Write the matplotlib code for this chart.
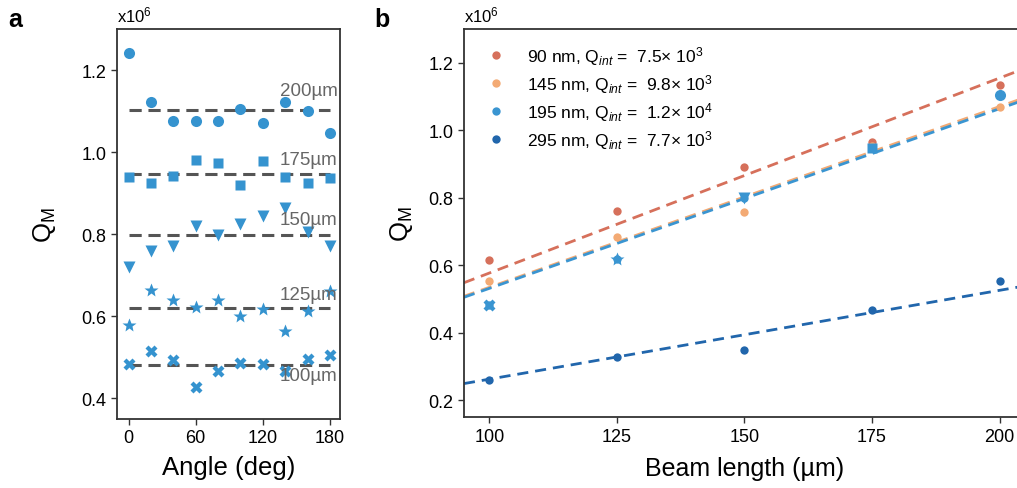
"""Q_M vs angle (a) and Q_M vs beam length (b)"""

import matplotlib

matplotlib.use("Agg")
import matplotlib.pyplot as plt
import numpy as np

plt.rcParams["font.family"] = ["Liberation Sans", "DejaVu Sans"]
plt.rcParams["mathtext.fontset"] = "custom"
plt.rcParams["mathtext.rm"] = "Liberation Sans"
plt.rcParams["mathtext.it"] = "Liberation Sans:italic"

# ── data (x1e6) ──
angles = [0, 20, 40, 60, 80, 100, 120, 140, 160, 180]
q_200 = [1.241, 1.123, 1.075, 1.075, 1.075, 1.104, 1.072, 1.122, 1.100, 1.046]
q_175 = [0.939, 0.926, 0.942, 0.981, 0.973, 0.920, 0.979, 0.939, 0.926, 0.936]
q_150 = [0.720, 0.760, 0.772, 0.819, 0.797, 0.825, 0.845, 0.864, 0.806, 0.772]
q_125 = [0.580, 0.663, 0.641, 0.623, 0.639, 0.601, 0.617, 0.564, 0.612, 0.661]
q_100 = [0.483, 0.516, 0.493, 0.428, 0.467, 0.487, 0.483, 0.466, 0.497, 0.505]
length_labels = ["200µm", "175µm", "150µm", "125µm", "100µm"]
label_y = [1.151, 0.983, 0.837, 0.653, 0.457]

beam_len = [100, 125, 150, 175, 200]
q_90nm = [0.616, 0.760, 0.890, 0.964, 1.134]
q_145nm = [0.553, 0.685, 0.757, 0.954, 1.070]
q_295nm = [0.259, 0.329, 0.348, 0.469, 0.555]
legend_txt = [
    r"90 nm, Q$_{int}$ =  7.5× 10$^3$",
    r"145 nm, Q$_{int}$ =  9.8× 10$^3$",
    r"195 nm, Q$_{int}$ =  1.2× 10$^4$",
    r"295 nm, Q$_{int}$ =  7.7× 10$^3$",
]

BLUE = "#3593cf"
RED = "#d6705b"
ORANGE = "#f3aa74"
LBLUE = "#3a95d1"
DBLUE = "#2166ac"
GREY = "#555555"

fig = plt.figure(figsize=(10.17, 4.89), dpi=100)
ax1 = fig.add_axes([0.1148, 0.1411, 0.2195, 0.7976])
ax2 = fig.add_axes([0.4562, 0.1446, 0.5517, 0.7941])

# ═════ panel a ═════
groups = [q_200, q_175, q_150, q_125, q_100]
markers = [("o", 8), ("s", 7.5), ("v", 8.5), ("*", 10), ("X", 8.5)]
means = []
for vals, (m, ms), lab, ly in zip(groups, markers, length_labels, label_y):
    ax1.plot(angles, vals, m, color=BLUE, ms=ms, mec="none", zorder=3)
    mu = np.mean(vals)
    means.append(mu)
    ax1.plot([angles[0], angles[-1]], [mu, mu], "--", color=GREY,
             lw=2.2, dashes=(4, 2.2), zorder=2)
    ax1.text(187, ly, lab, ha="right", va="center", fontsize=13.5, color="#666666", zorder=4)

ax1.set_xlim(-10.5, 189)
ax1.set_ylim(0.35, 1.30)
ax1.set_xticks([0, 60, 120, 180])
ax1.set_yticks([0.4, 0.6, 0.8, 1.0, 1.2])
ax1.set_xlabel("Angle (deg)", fontsize=18.5, labelpad=6)
ax1.set_ylabel(r"Q$_\mathrm{M}$", fontsize=18.5, labelpad=17)
ax1.text(0, 1.012, r"x10$^6$", transform=ax1.transAxes, fontsize=12, va="bottom")

# ═════ panel b ═════
means_b = means[::-1]  # 100 → 200 µm
xfit = np.array([95, 205])
series = [(q_90nm, RED), (q_145nm, ORANGE), (means_b, LBLUE), (q_295nm, DBLUE)]
for (vals, c), lab in zip(series, legend_txt):
    x = np.array(beam_len, float)
    y = np.array(vals)
    k = np.sum(x * y) / np.sum(x * x)
    ax2.plot(xfit, k * xfit, "--", color=c, lw=2, dashes=(4, 2.5), zorder=2)
    ax2.plot(beam_len, vals, "o", color=c, ms=6, mec="none", label=lab, zorder=3)

for xb, yb, (m, ms) in zip(beam_len, means_b, markers[::-1]):
    ax2.plot(xb, yb, m, color=LBLUE, ms=ms, mec="none", zorder=4)

ax2.set_xlim(95, 205)
ax2.set_ylim(0.15, 1.30)
ax2.set_xticks([100, 125, 150, 175, 200])
ax2.set_yticks([0.2, 0.4, 0.6, 0.8, 1.0, 1.2])
ax2.set_xlabel("Beam length (µm)", fontsize=18, labelpad=8)
ax2.set_ylabel(r"Q$_\mathrm{M}$", fontsize=18.5, labelpad=10)
ax2.text(0, 1.012, r"x10$^6$", transform=ax2.transAxes, fontsize=12, va="bottom")
ax2.legend(loc="upper left", bbox_to_anchor=(0.0, 1.0), frameon=False,
           fontsize=12.5, handletextpad=0.8, labelspacing=0.3, borderaxespad=0.45)

for ax in (ax1, ax2):
    ax.tick_params(labelsize=13, length=4, width=1, color="#333333")
    for s in ax.spines.values():
        s.set_color("#333333")
        s.set_linewidth(1.3)

fig.text(0.008, 0.945, "a", fontsize=18, fontweight="bold")
fig.text(0.368, 0.945, "b", fontsize=18, fontweight="bold")

fig.savefig("out.png", dpi=100)
